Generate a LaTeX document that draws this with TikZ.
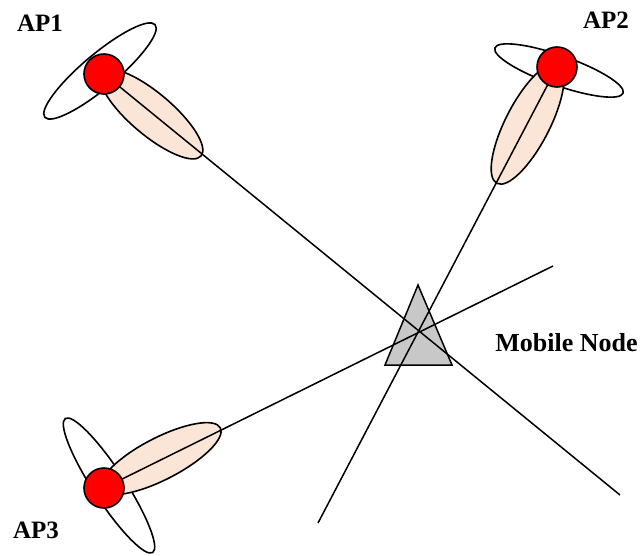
\documentclass[tikz,border=0pt]{standalone}
\usepackage{fontspec}
\setmainfont{Liberation Serif}
\definecolor{lobe}{RGB}{251,229,214}
\definecolor{tri}{RGB}{200,200,200}
\begin{document}
\begin{tikzpicture}[x=1pt,y=-1pt,
  lobeW/.style={draw=black, line width=1.6pt, fill=white},
  lobeP/.style={draw=black, line width=1.6pt, fill=lobe},
  apnode/.style={circle, draw=black, line width=1.6pt, fill=red, minimum size=40pt, inner sep=0pt},
  lbl/.style={font=\bfseries\fontsize{25}{25}\selectfont, anchor=base, inner sep=0pt},
  biglbl/.style={font=\bfseries\fontsize{26}{26}\selectfont, anchor=base, inner sep=0pt},
  link/.style={line width=1.5pt}]
\useasboundingbox (0,0) rectangle (642,556);
% mobile node
\draw[line width=1.5pt, fill=tri] (418,285) -- (452,365) -- (385,365) -- cycle;
% AP centres and line ends
\coordinate (c1) at (104,74);
\coordinate (c2) at (557,67);
\coordinate (c3) at (104,488);
\coordinate (e1) at (620,495);
\coordinate (e2) at (318,523);
\coordinate (e3) at (553,266);
% white lobes
\draw[lobeW, shift={(100,71)}, rotate=40] (0,0) ellipse [x radius=72pt, y radius=17pt];
\draw[lobeW, shift={(559,70.5)}, rotate=-19.4] (0,0) ellipse [x radius=68pt, y radius=15pt];
\draw[lobeW, shift={(109,485.5)}, rotate=-56.9] (0,0) ellipse [x radius=80pt, y radius=16pt];
% main lobes
\draw[lobeP, shift={(151.4,114)}, rotate=-40.2] (0,0) ellipse [x radius=65pt, y radius=21pt];
\draw[lobeP, shift={(527.6,123.8)}, rotate=62.7] (0,0) ellipse [x radius=67pt, y radius=22pt];
\draw[lobeP, shift={(160.8,458.6)}, rotate=27.3] (0,0) ellipse [x radius=67pt, y radius=21pt];
% links
\draw[link] (c1) -- (e1);
\draw[link] (c2) -- (e2);
\draw[link] (c3) -- (e3);
% access points
\node[apnode] (ap1) at (c1) {};
\node[apnode] (ap2) at (c2) {};
\node[apnode] (ap3) at (c3) {};
% labels
\node[lbl] (l1) at (40,31.7) {AP1};
\node[lbl] (l2) at (606,28.3) {AP2};
\node[lbl] (l3) at (36,538.3) {AP3};
\node[biglbl] (mnl) at (566.5,351.7) {Mobile Node};
\end{tikzpicture}
\end{document}
